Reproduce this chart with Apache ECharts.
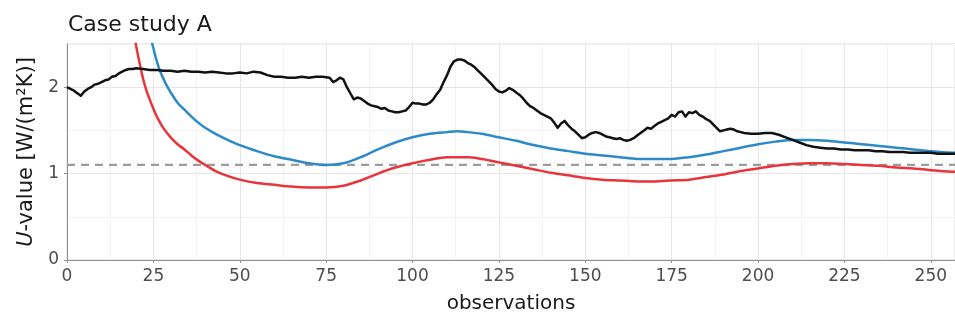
<!DOCTYPE html>
<html>
<head>
<meta charset="utf-8">
<script src="https://cdn.jsdelivr.net/npm/echarts@6/dist/echarts.min.js"></script>
<style>
  html, body { margin: 0; padding: 0; background: #fff; }
  #chart { width: 955px; height: 320px; }
</style>
</head>
<body>
<div id="chart"></div>
<script>
// Tick positions
const xTicks = [0, 25, 50, 75, 100, 125, 150, 175, 200, 225, 250];
const yTicks = [0, 1, 2];

// Reference U-value (dashed)
const refU = 1.1;

// Running average estimate (black)
const avgX = [0,1,2,3,4,5,6,7,8,9,10,11,12,13,14,15,16,17,18,19,20,22,24,26,28,30,32,34,36,38,40,42,44,46,48,50,52,54,56,58,60,62,64,66,68,70,72,74,76,77,78,79,80,81,82,83,84,85,86,87,88,89,90,91,92,93,94,95,96,97,98,99,100,101,102,103,104,105,106,107,108,109,110,111,112,113,114,115,116,117,118,119,120,121,122,123,124,125,126,127,128,129,130,131,132,133,134,135,136,137,138,139,140,141,142,143,144,145,146,147,148,149,150,151,152,153,154,155,156,157,158,159,160,161,162,163,164,165,166,167,168,169,170,171,172,173,174,175,176,177,178,179,180,181,182,183,184,185,186,187,188,189,190,191,192,193,194,195,196,198,200,202,204,206,208,210,212,214,216,218,220,222,224,226,228,230,232,234,236,238,240,242,244,246,248,250,252,254,256,257];
const avgU = [2.00,1.98,1.96,1.93,1.90,1.95,1.98,2.00,2.03,2.04,2.06,2.08,2.09,2.12,2.13,2.16,2.18,2.20,2.21,2.21,2.22,2.21,2.20,2.20,2.19,2.19,2.18,2.19,2.18,2.18,2.17,2.18,2.17,2.16,2.16,2.17,2.16,2.18,2.17,2.14,2.12,2.12,2.11,2.11,2.12,2.11,2.12,2.12,2.11,2.06,2.08,2.11,2.09,2.00,1.93,1.86,1.88,1.87,1.84,1.81,1.79,1.78,1.77,1.75,1.76,1.73,1.72,1.71,1.71,1.72,1.73,1.77,1.82,1.81,1.81,1.80,1.80,1.82,1.86,1.92,1.97,2.06,2.14,2.24,2.30,2.32,2.32,2.31,2.28,2.26,2.23,2.19,2.15,2.11,2.07,2.03,1.98,1.95,1.94,1.96,1.99,1.97,1.94,1.91,1.87,1.82,1.78,1.76,1.73,1.70,1.68,1.66,1.64,1.59,1.53,1.58,1.61,1.56,1.52,1.49,1.45,1.41,1.42,1.45,1.47,1.48,1.47,1.45,1.43,1.42,1.41,1.40,1.41,1.39,1.38,1.39,1.41,1.44,1.47,1.50,1.53,1.52,1.55,1.58,1.60,1.62,1.64,1.68,1.66,1.71,1.72,1.66,1.71,1.70,1.72,1.68,1.66,1.63,1.61,1.57,1.53,1.49,1.50,1.51,1.52,1.51,1.49,1.48,1.47,1.46,1.46,1.47,1.47,1.45,1.42,1.39,1.36,1.33,1.31,1.30,1.29,1.29,1.28,1.28,1.27,1.27,1.27,1.26,1.26,1.25,1.25,1.25,1.24,1.24,1.24,1.24,1.23,1.23,1.23,1.23];

// Upper model curve (blue)
const upperX = [24,25,26,27,28,29,30,32,34,36,38,40,43,46,50,55,60,65,70,75,80,85,90,95,100,105,110,113,116,120,125,130,135,140,145,150,155,160,165,170,175,180,185,190,195,200,205,210,215,220,225,230,235,240,245,250,257];
const upperU = [2.62,2.45,2.30,2.18,2.09,2.01,1.94,1.82,1.74,1.66,1.59,1.53,1.46,1.40,1.33,1.26,1.20,1.16,1.12,1.10,1.12,1.19,1.28,1.36,1.42,1.46,1.48,1.49,1.48,1.46,1.42,1.38,1.33,1.29,1.26,1.23,1.21,1.19,1.17,1.17,1.17,1.19,1.22,1.26,1.30,1.34,1.37,1.39,1.39,1.38,1.36,1.34,1.32,1.30,1.28,1.26,1.24];

// Lower model curve (red)
const lowerX = [19,20,21,22,23,24,25,26,28,30,32,34,36,38,40,43,46,50,55,60,65,70,75,80,85,90,95,100,105,110,113,116,120,125,130,135,140,145,150,155,160,165,170,175,180,185,190,195,200,205,210,215,220,225,230,235,240,245,250,257];
const lowerU = [2.70,2.48,2.28,2.10,1.96,1.85,1.75,1.66,1.52,1.42,1.34,1.28,1.21,1.15,1.10,1.03,0.98,0.93,0.89,0.87,0.85,0.84,0.84,0.86,0.92,1.00,1.07,1.12,1.16,1.19,1.19,1.19,1.17,1.13,1.09,1.05,1.01,0.98,0.95,0.93,0.92,0.91,0.91,0.92,0.93,0.96,0.99,1.03,1.06,1.09,1.11,1.12,1.12,1.11,1.10,1.09,1.07,1.06,1.04,1.02];

const pair = (xs, ys) => xs.map((x, i) => [x, ys[i]]);

const FONT = '"DejaVu Sans", Verdana, sans-serif';
const X_MAX = 257;
const Y_MAX = 2.5;

const chart = echarts.init(document.getElementById('chart'), null, { renderer: 'canvas' });

chart.setOption({
  animation: false,
  backgroundColor: '#ffffff',
  textStyle: { fontFamily: FONT },
  title: {
    text: 'Case study A',
    left: 63,
    top: 9,
    textStyle: { fontFamily: FONT, fontSize: 22, fontWeight: 'normal', color: '#1a1a1a' }
  },
  grid: {
    left: 67, right: 0, top: 44, bottom: 60,
    show: true, borderColor: '#d6d6d6', borderWidth: 1, backgroundColor: '#ffffff'
  },
  xAxis: [
    {
      type: 'value', min: 0, max: X_MAX, z: 2,
      name: 'observations', nameLocation: 'middle', nameGap: 34,
      nameTextStyle: { fontFamily: FONT, fontSize: 20, color: '#1a1a1a' },
      axisLine: { show: true, lineStyle: { color: '#8f8f8f', width: 1 } },
      axisTick: { show: true, length: 3, customValues: xTicks, lineStyle: { color: '#8f8f8f' } },
      axisLabel: { customValues: xTicks, margin: 8, fontFamily: FONT, fontSize: 17, color: '#4d4d4d' },
      splitLine: { show: true, lineStyle: { color: '#e6e6e6', width: 1 } }
    },
    {
      type: 'value', min: 0, max: X_MAX, interval: 12.5, z: 1,
      axisLine: { show: false }, axisTick: { show: false }, axisLabel: { show: false },
      splitLine: { show: true, lineStyle: { color: '#f3f3f3', width: 1 } }
    }
  ],
  yAxis: [
    {
      type: 'value', min: 0, max: Y_MAX, z: 2,
      name: '{i|U}-value [W/(m²K)]', nameLocation: 'middle', nameGap: 28,
      nameTextStyle: {
        fontFamily: FONT, fontSize: 21, color: '#1a1a1a',
        rich: { i: { fontFamily: FONT, fontSize: 21, fontStyle: 'italic', color: '#1a1a1a' } }
      },
      axisLine: { show: true, lineStyle: { color: '#8f8f8f', width: 1 } },
      axisTick: { show: true, length: 3, customValues: yTicks, lineStyle: { color: '#8f8f8f' } },
      axisLabel: { customValues: yTicks, margin: 8, fontFamily: FONT, fontSize: 17, color: '#4d4d4d' },
      splitLine: { show: true, lineStyle: { color: '#e6e6e6', width: 1 } }
    },
    {
      type: 'value', min: 0, max: Y_MAX, interval: 0.5, z: 1,
      axisLine: { show: false }, axisTick: { show: false }, axisLabel: { show: false },
      splitLine: { show: true, lineStyle: { color: '#f3f3f3', width: 1 } }
    }
  ],
  series: [
    {
      type: 'line', name: 'reference', xAxisIndex: 0, yAxisIndex: 0,
      data: [[0, refU], [X_MAX, refU]],
      showSymbol: false, silent: true, z: 2,
      lineStyle: { color: '#9c9c9c', width: 2.2, type: [8, 6] }
    },
    {
      type: 'line', name: 'lower', xAxisIndex: 0, yAxisIndex: 0,
      data: pair(lowerX, lowerU), smooth: 0.3, showSymbol: false, clip: true, z: 3,
      lineStyle: { color: '#e8353b', width: 2.5 }
    },
    {
      type: 'line', name: 'upper', xAxisIndex: 0, yAxisIndex: 0,
      data: pair(upperX, upperU), smooth: 0.3, showSymbol: false, clip: true, z: 3,
      lineStyle: { color: '#2c8ac8', width: 2.5 }
    },
    {
      type: 'line', name: 'average', xAxisIndex: 0, yAxisIndex: 0,
      data: pair(avgX, avgU), showSymbol: false, clip: true, z: 4,
      lineStyle: { color: '#111111', width: 2.5, join: 'round' }
    }
  ]
});
</script>
</body>
</html>
